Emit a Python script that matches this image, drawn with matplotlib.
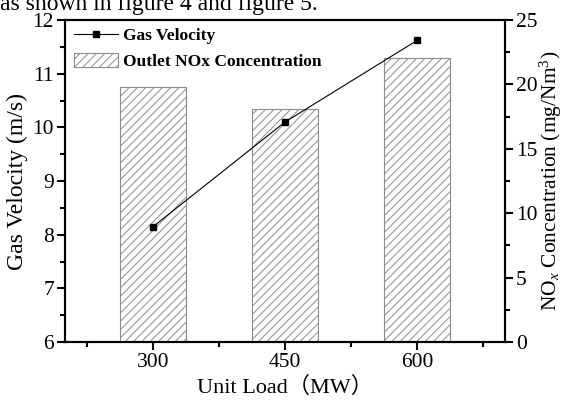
import matplotlib.pyplot as plt
import matplotlib as mpl
from matplotlib.ticker import MultipleLocator

# data
loads = [300, 450, 600]
gas_velocity = [8.15, 10.1, 11.62]
nox_conc = [19.8, 18.1, 22.05]

plt.rcParams['font.family'] = ['Liberation Serif', 'Noto Sans CJK SC']
plt.rcParams['mathtext.fontset'] = 'custom'
plt.rcParams['mathtext.rm'] = 'Liberation Serif'
plt.rcParams['mathtext.it'] = 'Liberation Serif:italic'
plt.rcParams['hatch.color'] = '#8c8c8c'
plt.rcParams['hatch.linewidth'] = 0.7

fig = plt.figure(figsize=(5.63, 4.01), dpi=100)
ax = fig.add_axes([0.1155, 0.147, 0.7815, 0.803])
ax2 = ax.twinx()

# bars on the right axis
bars = ax2.bar(loads, nox_conc, width=76, facecolor='white', edgecolor='#8c8c8c',
               hatch='////', linewidth=0.8, label='Outlet NOx Concentration', zorder=1)
ax2.set_ylim(0, 25)
ax2.yaxis.set_major_locator(MultipleLocator(5))
ax2.yaxis.set_minor_locator(MultipleLocator(2.5))
ax2.set_ylabel('NO$_x$ Concentration (mg/Nm$^3$)', fontsize=15.5, labelpad=0)

# line on the left axis, drawn above the bars
ax.set_zorder(ax2.get_zorder() + 1)
ax.patch.set_visible(False)
line, = ax.plot(loads, gas_velocity, color='black', lw=0.8, marker='s', ms=5,
                label='Gas Velocity')
ax.set_xlim(200, 700)
ax.set_ylim(6, 12)
ax.set_xticks(loads)
ax.xaxis.set_minor_locator(mpl.ticker.FixedLocator([225, 375, 525, 675]))
ax.yaxis.set_major_locator(MultipleLocator(1))
ax.yaxis.set_minor_locator(MultipleLocator(0.5))
ax.set_ylabel('Gas Velocity (m/s)', fontsize=17, labelpad=3)
ax.set_xlabel('Unit Load（MW）', fontsize=16, labelpad=3)

for a in (ax, ax2):
    a.tick_params(which='major', direction='out', length=6, width=1.5, labelsize=15.5, pad=2)
    a.tick_params(which='minor', direction='out', length=3.5, width=1.5)
    for s in a.spines.values():
        s.set_linewidth(1.5)
ax.tick_params(axis='y', which='both', right=False)
ax2.tick_params(axis='x', which='both', top=False, bottom=False)

leg = ax.legend([line, bars], ['Gas Velocity', 'Outlet NOx Concentration'],
                loc='upper left', frameon=False, prop={'weight': 'bold', 'size': 12.5},
                handlelength=2.5, handleheight=0.9, handletextpad=0.3, labelspacing=0.5,
                borderaxespad=0.0, bbox_to_anchor=(0.005, 1.0))

# cropped caption line from the page above the chart
fig.text(0.0, 1 - 10 / 401, 'as shown in figure 4 and figure 5.', fontsize=17,
         va='baseline', ha='left')

fig.savefig('out.png', dpi=100)
